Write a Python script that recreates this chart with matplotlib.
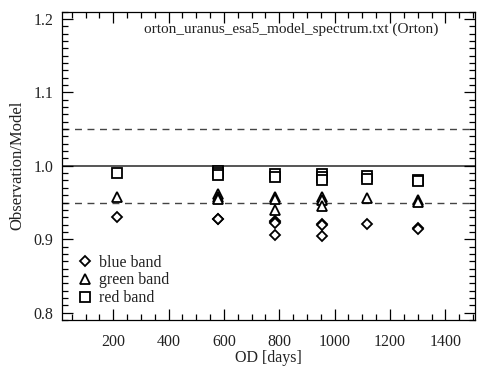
import matplotlib
matplotlib.use("Agg")
import matplotlib.pyplot as plt
from matplotlib.ticker import MultipleLocator

plt.rcParams['font.family'] = ['Liberation Serif', 'DejaVu Serif']

title = "orton_uranus_esa5_model_spectrum.txt (Orton)"
band_labels = ["blue band", "green band", "red band"]

blue_od = [212, 578, 578, 785, 785, 785, 785, 953, 953, 953, 1116, 1302, 1302]
blue_val = [0.930, 0.928, 0.927, 0.925, 0.924, 0.922, 0.906, 0.921, 0.919, 0.905, 0.921, 0.915, 0.914]

green_od = [212, 578, 578, 578, 785, 785, 785, 953, 953, 953, 1116, 1302, 1302]
green_val = [0.958, 0.962, 0.958, 0.955, 0.958, 0.955, 0.940, 0.957, 0.953, 0.945, 0.956, 0.953, 0.951]

red_od = [212, 578, 578, 578, 785, 785, 953, 953, 953, 1116, 1116, 1302, 1302]
red_val = [0.990, 0.993, 0.990, 0.988, 0.989, 0.985, 0.989, 0.985, 0.981, 0.986, 0.982, 0.981, 0.979]

ref_line = 1.0
tol_lines = [1.05, 0.95]

fig = plt.figure(figsize=(4.78, 3.69), dpi=100)
ax = fig.add_axes([62/478, 49/369, 413/478, 308.4/369])

ax.axhline(ref_line, color='#555555', lw=1.4, zorder=1)
for t in tol_lines:
    ax.axhline(t, color='#444444', lw=1.0, ls=(0, (5, 4)), zorder=1)

mk = dict(ls='none', mfc='white', mec='black', mew=1.3, zorder=3)
ax.plot(blue_od, blue_val, marker='D', ms=5.2, label=band_labels[0], **mk)
ax.plot(green_od, green_val, marker='^', ms=7.5, label=band_labels[1], **mk)
ax.plot(red_od, red_val, marker='s', ms=7.0, label=band_labels[2], **mk)

ax.set_xlim(15, 1507)
ax.set_ylim(0.79, 1.21)
ax.xaxis.set_major_locator(MultipleLocator(200))
ax.xaxis.set_minor_locator(MultipleLocator(50))
ax.yaxis.set_major_locator(MultipleLocator(0.1))
ax.yaxis.set_minor_locator(MultipleLocator(0.01))
ax.tick_params(which='both', direction='in', top=True, right=True,
               labelsize=11.5, labelcolor='#222222', width=0.9)
ax.tick_params(which='major', length=8)
ax.tick_params(which='minor', length=4)
ax.tick_params(axis='x', which='major', pad=10)
ax.tick_params(axis='y', which='major', pad=6)
ax.yaxis.set_major_formatter(matplotlib.ticker.FormatStrFormatter('%.1f'))
for s in ax.spines.values():
    s.set_linewidth(0.9)

ax.set_xlabel("OD [days]", fontsize=11.5, color='#222222', labelpad=0)
ax.set_ylabel("Observation/Model", fontsize=12, color='#222222', labelpad=6)
ax.text(0.555, 0.965, title, transform=ax.transAxes, ha='center', va='top',
        fontsize=11, color='#222222')

leg = ax.legend(loc='lower left', bbox_to_anchor=(0.0, -0.005), frameon=False,
                fontsize=11.5, handlelength=1.0, handletextpad=0.35,
                labelspacing=0.12, borderpad=0.45)
for t in leg.get_texts():
    t.set_color('#222222')

fig.savefig("out.png", dpi=100)
